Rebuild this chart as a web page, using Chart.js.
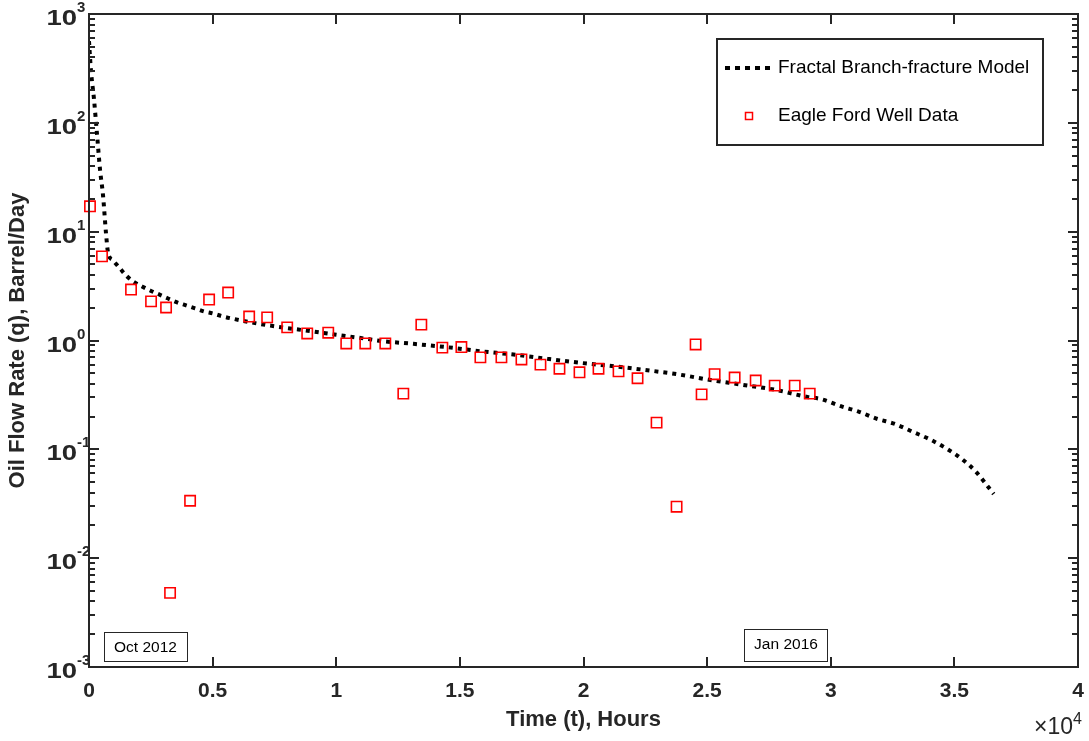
<!DOCTYPE html>
<html><head><meta charset="utf-8">
<script src="https://cdn.jsdelivr.net/npm/chart.js@4"></script>
<style>html,body{margin:0;padding:0;background:#fff;}#wrap{width:1089px;height:741px;}</style>
</head><body><div id="wrap"><canvas id="c" width="1089" height="741"></canvas></div>
<script>
// ---- data ----
const modelHours = [0, 81, 202, 324, 445, 567, 688, 769, 972, 1255, 1498, 1782, 2146, 2470, 2834, 3199, 3563, 3928, 4292, 4656, 5021, 5426, 5790, 6600, 7329, 9000, 10000, 11175, 11904, 13119, 14483, 15832, 17168, 18532, 19881, 21229, 22581, 23861, 25011, 26359, 27708, 29060, 29600, 30408, 31149, 31894, 32595, 33312, 34024, 34700, 35336, 35915, 36413, 36591];
const modelRate  = [563, 298, 165, 78.5, 37.4, 21.6, 9.65, 6.45, 5.44, 4.59, 3.96, 3.49, 3.14, 2.88, 2.65, 2.43, 2.24, 2.10, 1.97, 1.85, 1.77, 1.66, 1.59, 1.46, 1.37, 1.215, 1.13, 1.04, 0.985, 0.932, 0.868, 0.797, 0.743, 0.679, 0.623, 0.580, 0.533, 0.487, 0.438, 0.394, 0.354, 0.303, 0.29, 0.249, 0.221, 0.190, 0.171, 0.145, 0.123, 0.101, 0.0804, 0.0607, 0.0438, 0.0389];
const wellHours = [40, 526, 1700, 2510, 3117, 3279, 4089, 4858, 5628, 6478, 7206, 8016, 8826, 9676, 10405, 11174, 11984, 12713, 13441, 14291, 15061, 15830, 16680, 17490, 18259, 19028, 19838, 20607, 21417, 22186, 22955, 23765, 24534, 24777, 25304, 26113, 26964, 27733, 28543, 29150];
const wellRate  = [17.1, 5.93, 2.94, 2.29, 2.01, 0.0048, 0.0337, 2.38, 2.76, 1.66, 1.63, 1.32, 1.16, 1.18, 0.94, 0.94, 0.94, 0.325, 1.40, 0.86, 0.87, 0.70, 0.70, 0.67, 0.60, 0.55, 0.51, 0.55, 0.52, 0.45, 0.176, 0.0297, 0.92, 0.32, 0.49, 0.457, 0.429, 0.385, 0.385, 0.325];
const xTickValues = [0, 5000, 10000, 15000, 20000, 25000, 30000, 35000, 40000];
const xTickLabels = ['0', '0.5', '1', '1.5', '2', '2.5', '3', '3.5', '4'];
const yTickExponents = [-3, -2, -1, 0, 1, 2, 3];
const seriesNames = ['Fractal Branch-fracture Model', 'Eagle Ford Well Data'];
const dateNotes = ['Oct 2012', 'Jan 2016'];
const xTitle = 'Time (t), Hours';
const yTitle = 'Oil Flow Rate (q), Barrel/Day';

const FONT = "'Liberation Sans', Arial, Helvetica, sans-serif";
const AX = '#262626';

const framePlugin = {
  id: 'frame',
  afterDraw(chart) {
    const ctx = chart.ctx, a = chart.chartArea;
    const xs = chart.scales.x, ys = chart.scales.y;
    ctx.save();
    ctx.strokeStyle = AX; ctx.lineWidth = 2; ctx.setLineDash([]);
    ctx.strokeRect(a.left, a.top, a.right - a.left, a.bottom - a.top);
    ctx.beginPath();
    xTickValues.forEach(v => {
      const p = Math.round(xs.getPixelForValue(v));
      ctx.moveTo(p, a.bottom); ctx.lineTo(p, a.bottom - 10);
      ctx.moveTo(p, a.top); ctx.lineTo(p, a.top + 10);
    });
    yTickExponents.forEach(e => {
      for (let m = 1; m <= 9; m++) {
        if (e === yTickExponents[yTickExponents.length - 1] && m > 1) break;
        const p = Math.round(ys.getPixelForValue(m * Math.pow(10, e)));
        const len = m === 1 ? 10 : 6;
        ctx.moveTo(a.left, p); ctx.lineTo(a.left + len, p);
        ctx.moveTo(a.right, p); ctx.lineTo(a.right - len, p);
      }
    });
    ctx.stroke();

    // y tick labels with superscripts
    ctx.fillStyle = AX;
    yTickExponents.forEach(e => {
      const p = ys.getPixelForValue(Math.pow(10, e));
      ctx.save();
      ctx.font = 'bold 22px ' + FONT;
      ctx.textAlign = 'right'; ctx.textBaseline = 'middle';
      ctx.translate(77, p + 5);
      ctx.scale(1.25, 1);
      ctx.fillText('10', 0, 0);
      ctx.restore();
      ctx.font = 'bold 15px ' + FONT;
      ctx.textAlign = 'left'; ctx.textBaseline = 'middle';
      ctx.fillText(String(e), 77, p - 6);
    });

    // axis titles
    ctx.font = 'bold 22px ' + FONT;
    ctx.textAlign = 'center'; ctx.textBaseline = 'middle';
    ctx.fillText(xTitle, (a.left + a.right) / 2, 720);
    ctx.save();
    ctx.translate(18, (a.top + a.bottom) / 2);
    ctx.rotate(-Math.PI / 2);
    ctx.fillText(yTitle, 0, 0);
    ctx.restore();

    // x10^4 multiplier
    ctx.font = '23px ' + FONT;
    ctx.textAlign = 'right'; ctx.textBaseline = 'alphabetic';
    ctx.fillText('\u00d710', 1073, 734);
    ctx.font = '16px ' + FONT;
    ctx.textAlign = 'left';
    ctx.fillText('4', 1073, 724);

    // legend
    ctx.fillStyle = '#fff';
    ctx.fillRect(717, 39, 326, 106);
    ctx.strokeStyle = AX; ctx.lineWidth = 2;
    ctx.strokeRect(717, 39, 326, 106);
    ctx.strokeStyle = '#000'; ctx.lineWidth = 4; ctx.setLineDash([5, 5]); ctx.lineCap = 'butt';
    ctx.beginPath(); ctx.moveTo(725, 68); ctx.lineTo(770, 68); ctx.stroke();
    ctx.setLineDash([]);
    ctx.strokeStyle = '#ff0000'; ctx.lineWidth = 1.5;
    ctx.strokeRect(745.5, 112.5, 7, 7);
    ctx.fillStyle = '#000';
    ctx.font = '19px ' + FONT; ctx.textAlign = 'left'; ctx.textBaseline = 'middle';
    ctx.fillText(seriesNames[0], 778, 68);
    ctx.fillText(seriesNames[1], 778, 116);

    // date notes
    ctx.font = '15.5px ' + FONT; ctx.textAlign = 'center';
    ctx.fillStyle = '#fff';
    ctx.fillRect(104, 632, 83, 29); ctx.fillRect(744, 629, 84, 32);
    ctx.strokeStyle = AX; ctx.lineWidth = 1;
    ctx.strokeRect(104.5, 632.5, 83, 29);
    ctx.strokeRect(744.5, 629.5, 83, 32);
    ctx.fillStyle = '#000';
    ctx.fillText(dateNotes[0], 145.5, 648);
    ctx.fillText(dateNotes[1], 786, 645);
    ctx.restore();
  }
};

new Chart(document.getElementById('c'), {
  type: 'scatter',
  data: {
    datasets: [
      {
        label: seriesNames[0], type: 'line', order: 1,
        data: modelHours.map((h, i) => ({ x: h, y: modelRate[i] })),
        borderColor: '#000', borderWidth: 4, borderDash: [4, 5], borderCapStyle: 'butt',
        pointRadius: 0, fill: false, cubicInterpolationMode: 'monotone'
      },
      {
        label: seriesNames[1], type: 'scatter', order: 0, clip: false,
        data: wellHours.map((h, i) => ({ x: h, y: wellRate[i] })),
        pointStyle: 'rect', pointRadius: 7.3, borderColor: '#ff0000', borderWidth: 1.6,
        backgroundColor: 'rgba(0,0,0,0)', showLine: false
      }
    ]
  },
  options: {
    responsive: false, animation: false, devicePixelRatio: 1,
    layout: { padding: { left: 0, right: 11, top: 14, bottom: 0 } },
    plugins: { legend: { display: false }, tooltip: { enabled: false } },
    scales: {
      x: {
        type: 'linear', min: 0, max: 40000,
        afterBuildTicks: s => { s.ticks = xTickValues.map(v => ({ value: v })); },
        ticks: {
          autoSkip: false, maxRotation: 0, padding: 12, color: AX,
          font: { family: FONT, weight: 'bold', size: 21 },
          callback: (v) => xTickLabels[xTickValues.indexOf(v)]
        },
        grid: { display: false, drawTicks: false }, border: { display: false },
        afterFit: s => { s.height = 74; s.paddingLeft = 0; s.paddingRight = 0; }
      },
      y: {
        type: 'logarithmic', min: 1e-3, max: 1e3,
        ticks: { display: false },
        grid: { display: false, drawTicks: false }, border: { display: false },
        afterFit: s => { s.width = 89; s.paddingTop = 0; s.paddingBottom = 0; }
      }
    }
  },
  plugins: [framePlugin]
});
</script>
</body></html>
